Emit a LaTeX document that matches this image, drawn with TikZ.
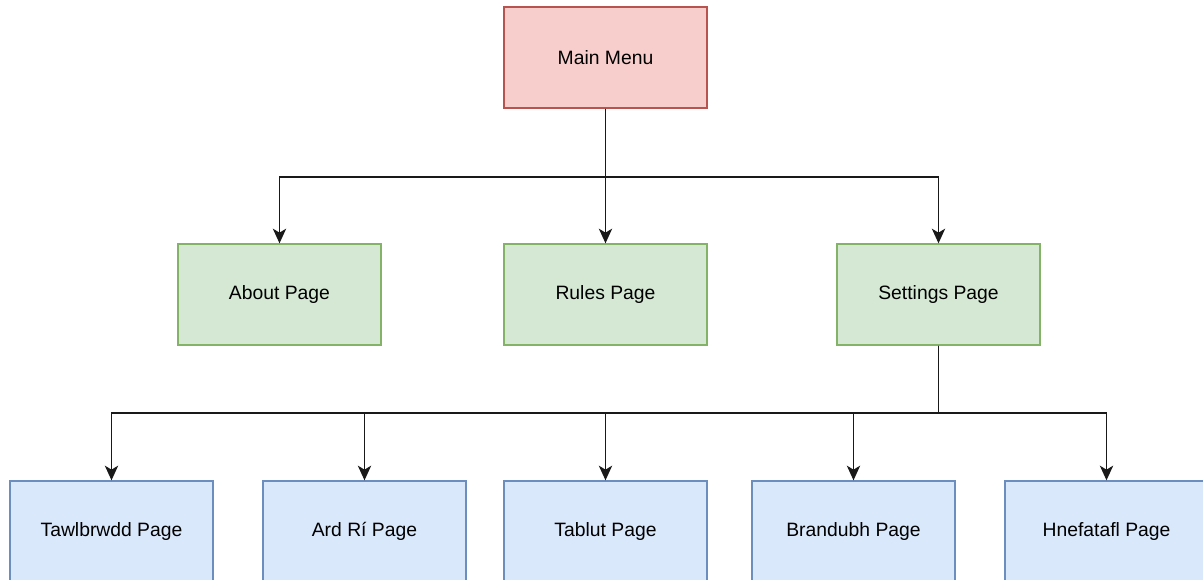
\documentclass[tikz,border=0pt]{standalone}
\usepackage{fontspec}
\setmainfont{Liberation Sans}
\usetikzlibrary{arrows.meta}
\definecolor{redfill}{HTML}{F8CECC}
\definecolor{redline}{HTML}{B85450}
\definecolor{greenfill}{HTML}{D5E8D4}
\definecolor{greenline}{HTML}{82B366}
\definecolor{bluefill}{HTML}{DAE8FC}
\definecolor{blueline}{HTML}{6C8EBF}
\tikzset{
  box/.style={rectangle, minimum width=203*0.75pt, minimum height=101*0.75pt, inner sep=0pt, line width=1pt, font=\fontsize{14.5pt}{17pt}\selectfont},
  redbox/.style={box, fill=redfill, draw=redline},
  greenbox/.style={box, fill=greenfill, draw=greenline},
  bluebox/.style={box, fill=bluefill, draw=blueline},
  arr/.style={draw=black!90, line width=1.2pt, -{Stealth[length=11pt, width=10pt, inset=3pt]}}
}
\begin{document}
\begin{tikzpicture}[x=0.75pt, y=-0.75pt]
\useasboundingbox (0,0) rectangle (1203,580);
\clip (0,0) rectangle (1203,580);
\node[redbox] (main) at (605.5,57.5) {Main Menu};
\node[greenbox] (about) at (279.5,294.5) {About Page};
\node[greenbox] (rules) at (605.5,294.5) {Rules Page};
\node[greenbox] (settings) at (938.5,294.5) {Settings Page};
\node[bluebox] (tawl) at (111.5,531.5) {Tawlbrwdd Page};
\node[bluebox] (ard) at (364.5,531.5) {Ard Rí Page};
\node[bluebox] (tablut) at (605.5,531.5) {Tablut Page};
\node[bluebox] (brand) at (853.5,531.5) {Brandubh Page};
\node[bluebox] (hnef) at (1106.5,531.5) {Hnefatafl Page};
\coordinate (bus1) at (605.5,177);
\coordinate (bus2) at (938.5,413);
\draw[arr] (main.south) -- (bus1) -| (about.north);
\draw[arr] (main.south) -- (rules.north);
\draw[arr] (main.south) -- (bus1) -| (settings.north);
\draw[arr] (settings.south) -- (bus2) -| (tawl.north);
\draw[arr] (settings.south) -- (bus2) -| (ard.north);
\draw[arr] (settings.south) -- (bus2) -| (tablut.north);
\draw[arr] (settings.south) -- (bus2) -| (brand.north);
\draw[arr] (settings.south) -- (bus2) -| (hnef.north);
\end{tikzpicture}
\end{document}
